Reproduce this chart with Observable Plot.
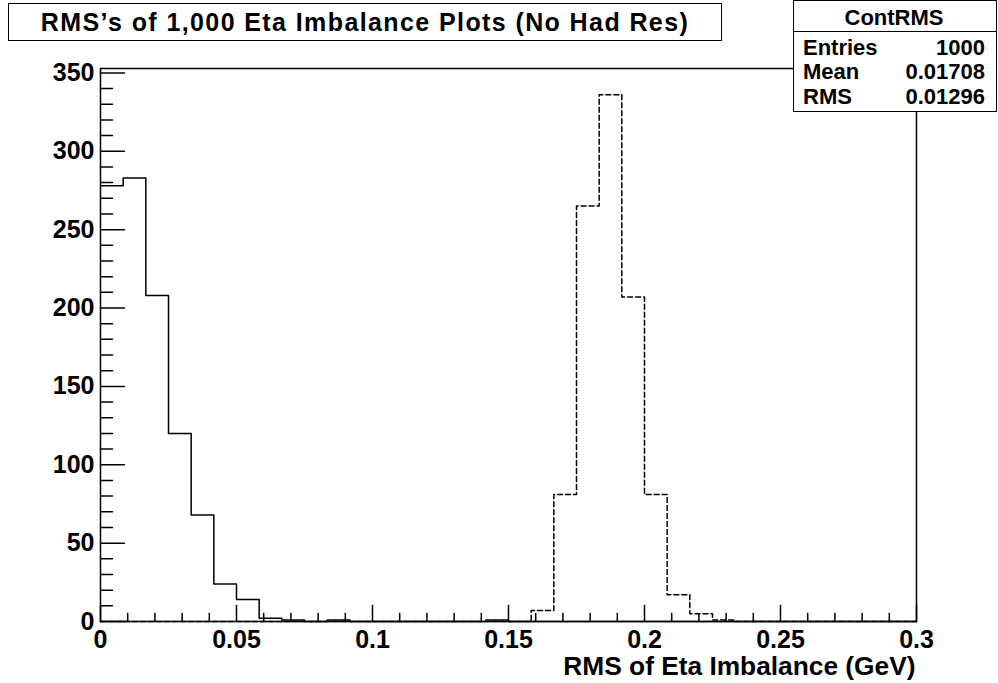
<!DOCTYPE html>
<html>
<head>
<meta charset="utf-8">
<script src="https://cdn.jsdelivr.net/npm/d3@7"></script>
<script src="https://cdn.jsdelivr.net/npm/@observablehq/plot@0.6"></script>
<style>
  body { margin: 0; background: #fff; }
  #wrap { position: relative; width: 998px; height: 683px; font-family: "Liberation Sans", Arial, sans-serif; font-weight: bold; color: #000; }
  #wrap svg { position: absolute; left: 0; top: 0; }
  .title { position: absolute; left: 8px; top: 3px; width: 712px; height: 36px; border: 1.5px solid #000; background: #fff;
           font-size: 25px; letter-spacing: 1.4px; line-height: 37px; text-align: center; white-space: nowrap; }
  .stats { position: absolute; left: 793px; top: 0px; width: 202px; height: 110px; border: 1.5px solid #000; background: #fff; font-size: 22px; }
  .row { position: absolute; left: 9px; right: 11px; height: 24px; line-height: 24px; display: flex; justify-content: space-between; white-space: nowrap; }
  .row.head { justify-content: center; }
  .sep { position: absolute; left: 0; right: 0; top: 30px; border-top: 1.5px solid #000; }
</style>
</head>
<body>
<div id="wrap"></div>
<script>
// ---- data ----
const xMin = 0, xMax = 0.3, nBins = 36;
// ContRMS (solid) bin contents
const contCounts = [278, 283, 208, 120, 68, 24, 14, 2, 1, 0, 1, 0, 0, 0, 0, 0, 0, 1,
                    0, 0, 0, 0, 0, 0, 0, 0, 0, 0, 0, 0, 0, 0, 0, 0, 0, 0];
// comparison histogram (dashed) bin contents
const dashCounts = [0, 0, 0, 0, 0, 0, 0, 0, 0, 0, 0, 0, 0, 0, 0, 0, 0, 0,
                    0, 7, 81, 265, 336, 207, 81, 17, 5, 1, 0, 0, 0, 0, 0, 0, 0, 0];
const xTicks = [0, 0.05, 0.1, 0.15, 0.2, 0.25, 0.3];
const yTicks = [0, 50, 100, 150, 200, 250, 300, 350];
const titleText = "RMS’s of 1,000 Eta Imbalance Plots (No Had Res)";
const xLabel = "RMS of Eta Imbalance (GeV)";
const statsName = "ContRMS";
const statsLabels = ["Entries", "Mean", "RMS"];
const statsValues = ["1000", "0.01708", "0.01296"];

// ---- derived tables ----
const bw = (xMax - xMin) / nBins;
function steps(counts) {
  const pts = counts.map((c, i) => ({x: xMin + i * bw, y: c}));
  pts.push({x: xMax, y: counts[counts.length - 1]});
  return pts;
}
const xMinor = d3.range(1, 30).map(i => i / 100).filter(v => Math.abs(v * 20 - Math.round(v * 20)) > 1e-6);
const yMinor = d3.range(10, 351, 10).filter(v => v % 50 !== 0);
const yMaxVal = 1.05 * d3.max([...contCounts, ...dashCounts]);

const tickShape = {draw(ctx, l) { ctx.moveTo(0, 0); ctx.lineTo(0, -l); }};
const tk = {anchor: "start", shape: tickShape, stroke: "black", strokeWidth: 1.5};

const chart = Plot.plot({
  width: 998, height: 683,
  marginLeft: 100, marginRight: 82, marginTop: 68, marginBottom: 62,
  style: {fontFamily: "Liberation Sans, Arial, sans-serif", color: "black", background: "transparent", overflow: "visible"},
  x: {domain: [xMin, xMax]},
  y: {domain: [0, yMaxVal]},
  marks: [
    Plot.line(steps(dashCounts), {x: "x", y: "y", curve: "step-after", stroke: "black", strokeWidth: 1.5, strokeDasharray: "5,3"}),
    Plot.line(steps(contCounts), {x: "x", y: "y", curve: "step-after", stroke: "black", strokeWidth: 1.5}),
    Plot.frame({stroke: "black", strokeWidth: 1.5}),
    Plot.vector(xTicks, {x: d => d, frameAnchor: "bottom", rotate: 0, length: 16, ...tk}),
    Plot.vector(xMinor, {x: d => d, frameAnchor: "bottom", rotate: 0, length: 8, ...tk}),
    Plot.vector(yTicks, {y: d => d, frameAnchor: "left", rotate: 90, length: 24, ...tk}),
    Plot.vector(yMinor, {y: d => d, frameAnchor: "left", rotate: 90, length: 12, ...tk}),
    Plot.axisX(xTicks, {tickSize: 0, tickPadding: 9, fontSize: 25, fontWeight: "bold", tickFormat: d => String(d), label: null}),
    Plot.axisY(yTicks, {tickSize: 0, tickPadding: 6, fontSize: 25, fontWeight: "bold", tickFormat: d => String(d), label: null}),
    Plot.text([xLabel], {frameAnchor: "bottom-right", text: d => d, textAnchor: "end", lineAnchor: "top", dy: 35, dx: -1, fontSize: 26.3, fontWeight: "bold"})
  ]
});

const wrap = document.getElementById("wrap");
wrap.appendChild(chart);

const t = document.createElement("div");
t.className = "title";
t.textContent = titleText;
wrap.appendChild(t);

const s = document.createElement("div");
s.className = "stats";
const tops = [5, 35, 59, 84];
const head = document.createElement("div");
head.className = "row head";
head.style.top = tops[0] + "px";
head.textContent = statsName;
s.appendChild(head);
const sep = document.createElement("div");
sep.className = "sep";
s.appendChild(sep);
statsLabels.forEach((lab, i) => {
  const r = document.createElement("div");
  r.className = "row";
  r.style.top = tops[i + 1] + "px";
  const a = document.createElement("span"); a.textContent = lab;
  const b = document.createElement("span"); b.textContent = statsValues[i];
  r.appendChild(a); r.appendChild(b);
  s.appendChild(r);
});
wrap.appendChild(s);
</script>
</body>
</html>
